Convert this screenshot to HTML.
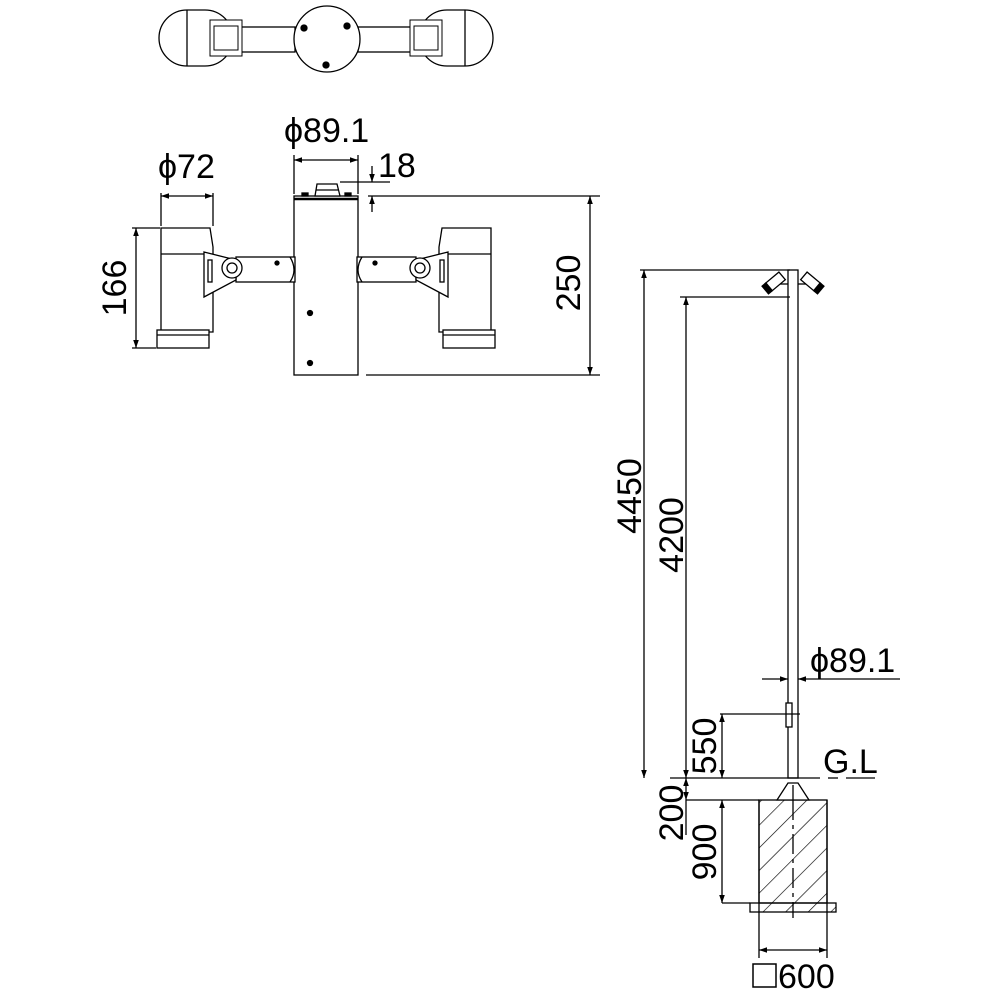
<!DOCTYPE html>
<html><head><meta charset="utf-8"><style>html,body{margin:0;padding:0;background:#fff}svg{display:block}text{font-family:"Liberation Sans",sans-serif;font-size:34px;fill:#000}</style></head>
<body>
<svg width="1000" height="1000" viewBox="0 0 1000 1000" xmlns="http://www.w3.org/2000/svg">
<defs>
<marker id="a" viewBox="0 0 10 10" refX="10" refY="5" markerWidth="12" markerHeight="8" orient="auto-start-reverse" markerUnits="userSpaceOnUse"><path d="M0,1.5 L10,5 L0,8.5 Z" fill="#000"/></marker>
<pattern id="h" width="16" height="16" patternUnits="userSpaceOnUse" patternTransform="rotate(45)"><line x1="0" y1="0" x2="0" y2="16" stroke="#000" stroke-width="1.3"/></pattern>
</defs>
<g fill="none" stroke="#000" stroke-width="1.3">
<!-- top view -->
<path d="M187,10 A28,28 0 1 0 187,66 L205,66 A28,28 0 0 0 205,10 Z" fill="#fff"/>
<line x1="187" y1="10" x2="187" y2="66"/>
<path d="M465,10 A28,28 0 1 1 465,66 L447,66 A28,28 0 0 1 447,10 Z" fill="#fff"/>
<line x1="465" y1="10" x2="465" y2="66"/>
<rect x="240" y="27" width="55" height="25"/>
<rect x="358" y="27" width="55" height="25"/>
<rect x="210" y="20" width="32" height="36" fill="#fff" stroke-width="1"/><rect x="214" y="26" width="24" height="24" stroke-width="1"/>
<rect x="410" y="20" width="32" height="36" fill="#fff" stroke-width="1"/><rect x="414" y="26" width="24" height="24" stroke-width="1"/>
<circle cx="327" cy="39" r="33" fill="#fff"/>
<circle cx="304" cy="28" r="3" fill="#000"/><circle cx="347" cy="26" r="3" fill="#000"/><circle cx="326" cy="65" r="3" fill="#000"/>
<!-- side view pole head -->
<rect x="294" y="196" width="64" height="179" fill="#fff"/>
<line x1="294" y1="199" x2="358" y2="199" stroke-width="2.5"/>
<path d="M315,196 L317,184 L337,184 L340,196 Z" fill="#fff"/>
<line x1="316" y1="190" x2="339" y2="190"/>
<rect x="302" y="193" width="6" height="3" fill="#000"/><rect x="345" y="193" width="6" height="3" fill="#000"/>
<circle cx="310" cy="313" r="2.5" fill="#000"/><circle cx="310" cy="363" r="2.5" fill="#000"/>
<!-- left lamp -->
<path d="M161,228 L210,228 L213,247 L213,332 L161,332 Z" fill="#fff"/>
<line x1="161" y1="254" x2="205" y2="254"/>
<rect x="157" y="330" width="52" height="18" fill="#fff"/>
<line x1="157" y1="335" x2="209" y2="335"/>
<rect x="236" y="257" width="59" height="25" fill="#fff"/>
<path d="M290,257 Q298,270 290,282"/>
<path d="M204,252 L236,260 L236,280 L204,297 Z" fill="#fff"/>
<rect x="208" y="260" width="4" height="22"/>
<circle cx="232" cy="268" r="10" fill="#fff"/><circle cx="232" cy="268" r="5"/>
<circle cx="277" cy="263" r="2" fill="#000"/>
<!-- right lamp -->
<path d="M491,228 L442,228 L439,247 L439,332 L491,332 Z" fill="#fff"/>
<line x1="491" y1="254" x2="447" y2="254"/>
<rect x="443" y="330" width="52" height="18" fill="#fff"/>
<line x1="443" y1="335" x2="495" y2="335"/>
<rect x="357" y="257" width="59" height="25" fill="#fff"/>
<path d="M362,257 Q354,270 362,282"/>
<path d="M448,252 L416,260 L416,280 L448,297 Z" fill="#fff"/>
<rect x="440" y="260" width="4" height="22"/>
<circle cx="420" cy="268" r="10" fill="#fff"/><circle cx="420" cy="268" r="5"/>
<circle cx="375" cy="263" r="2" fill="#000"/>
<!-- dims head -->
<line x1="294" y1="155" x2="294" y2="194"/><line x1="358" y1="155" x2="358" y2="194"/>
<line x1="294" y1="160" x2="358" y2="160" marker-start="url(#a)" marker-end="url(#a)"/>
<line x1="161" y1="193" x2="161" y2="226"/><line x1="213" y1="193" x2="213" y2="226"/>
<line x1="161" y1="196" x2="213" y2="196" marker-start="url(#a)" marker-end="url(#a)"/>
<line x1="132" y1="228" x2="160" y2="228"/><line x1="132" y1="348" x2="156" y2="348"/>
<line x1="136" y1="228" x2="136" y2="348" marker-start="url(#a)" marker-end="url(#a)"/>
<line x1="340" y1="182" x2="390" y2="182"/>
<line x1="368" y1="196" x2="600" y2="196"/>
<line x1="372" y1="166" x2="372" y2="182" marker-end="url(#a)"/>
<line x1="372" y1="212" x2="372" y2="196" marker-end="url(#a)"/>
<line x1="366" y1="375" x2="600" y2="375"/>
<line x1="590" y1="196" x2="590" y2="375" marker-start="url(#a)" marker-end="url(#a)"/>
<!-- pole -->
<rect x="788" y="270" width="10" height="508" fill="#fff"/>
<g transform="translate(776,281) rotate(-40)"><rect x="-10" y="-5" width="18" height="10" fill="#fff"/><rect x="-14" y="-5" width="5" height="10" fill="#000"/></g>
<g transform="translate(810,281) rotate(40)"><rect x="-8" y="-5" width="18" height="10" fill="#fff"/><rect x="9" y="-5" width="5" height="10" fill="#000"/></g>
<line x1="780" y1="284" x2="788" y2="284"/><line x1="798" y1="284" x2="806" y2="284"/>
<rect x="786" y="703" width="6" height="24" fill="#fff"/>
<line x1="640" y1="270" x2="790" y2="270"/>
<line x1="644" y1="270" x2="644" y2="778" marker-start="url(#a)" marker-end="url(#a)"/>
<line x1="680" y1="297" x2="790" y2="297"/>
<line x1="686" y1="297" x2="686" y2="778" marker-start="url(#a)" marker-end="url(#a)"/>
<line x1="762" y1="679" x2="788" y2="679" marker-end="url(#a)"/>
<line x1="900" y1="679" x2="798" y2="679" marker-end="url(#a)"/>
<line x1="720" y1="714" x2="800" y2="714"/>
<line x1="722" y1="714" x2="722" y2="778" marker-start="url(#a)" marker-end="url(#a)"/>
<line x1="670" y1="778" x2="820" y2="778"/><line x1="828" y1="778" x2="838" y2="778"/><line x1="846" y1="778" x2="875" y2="778"/>
<line x1="686" y1="778" x2="686" y2="800" marker-start="url(#a)" marker-end="url(#a)"/>
<line x1="686" y1="800" x2="759" y2="800"/><line x1="686" y1="800" x2="686" y2="835"/>
<!-- foundation -->
<rect x="759" y="800" width="68" height="103" fill="url(#h)"/>
<rect x="750" y="903" width="86" height="9" fill="url(#h)"/>
<path d="M777,800 L788,783 L798,783 L809,800 Z" fill="#fff"/>
<line x1="793" y1="785" x2="793" y2="800"/>
<line x1="759" y1="800" x2="759" y2="958"/><line x1="827" y1="800" x2="827" y2="958"/>
<line x1="793" y1="800" x2="793" y2="918" stroke-dasharray="20,5,4,5"/>
<line x1="722" y1="800" x2="722" y2="903" marker-start="url(#a)" marker-end="url(#a)"/>
<line x1="722" y1="903" x2="750" y2="903"/>
<line x1="759" y1="950" x2="827" y2="950" marker-start="url(#a)" marker-end="url(#a)"/>
<rect x="753" y="964" width="23" height="23" stroke-width="1.5"/>
</g>
<text x="284" y="142">ϕ89.1</text>
<text x="158" y="178">ϕ72</text>
<text x="378" y="177">18</text>
<text transform="translate(126,288) rotate(-90)" text-anchor="middle">166</text>
<text transform="translate(580,283) rotate(-90)" text-anchor="middle">250</text>
<text transform="translate(641,496) rotate(-90)" text-anchor="middle">4450</text>
<text transform="translate(683,535) rotate(-90)" text-anchor="middle">4200</text>
<text x="810" y="672">ϕ89.1</text>
<text transform="translate(716,746) rotate(-90)" text-anchor="middle">550</text>
<text x="823" y="773">G.L</text>
<text transform="translate(683,813) rotate(-90)" text-anchor="middle">200</text>
<text transform="translate(716,852) rotate(-90)" text-anchor="middle">900</text>
<text x="778" y="988">600</text>
</svg>
</body></html>
